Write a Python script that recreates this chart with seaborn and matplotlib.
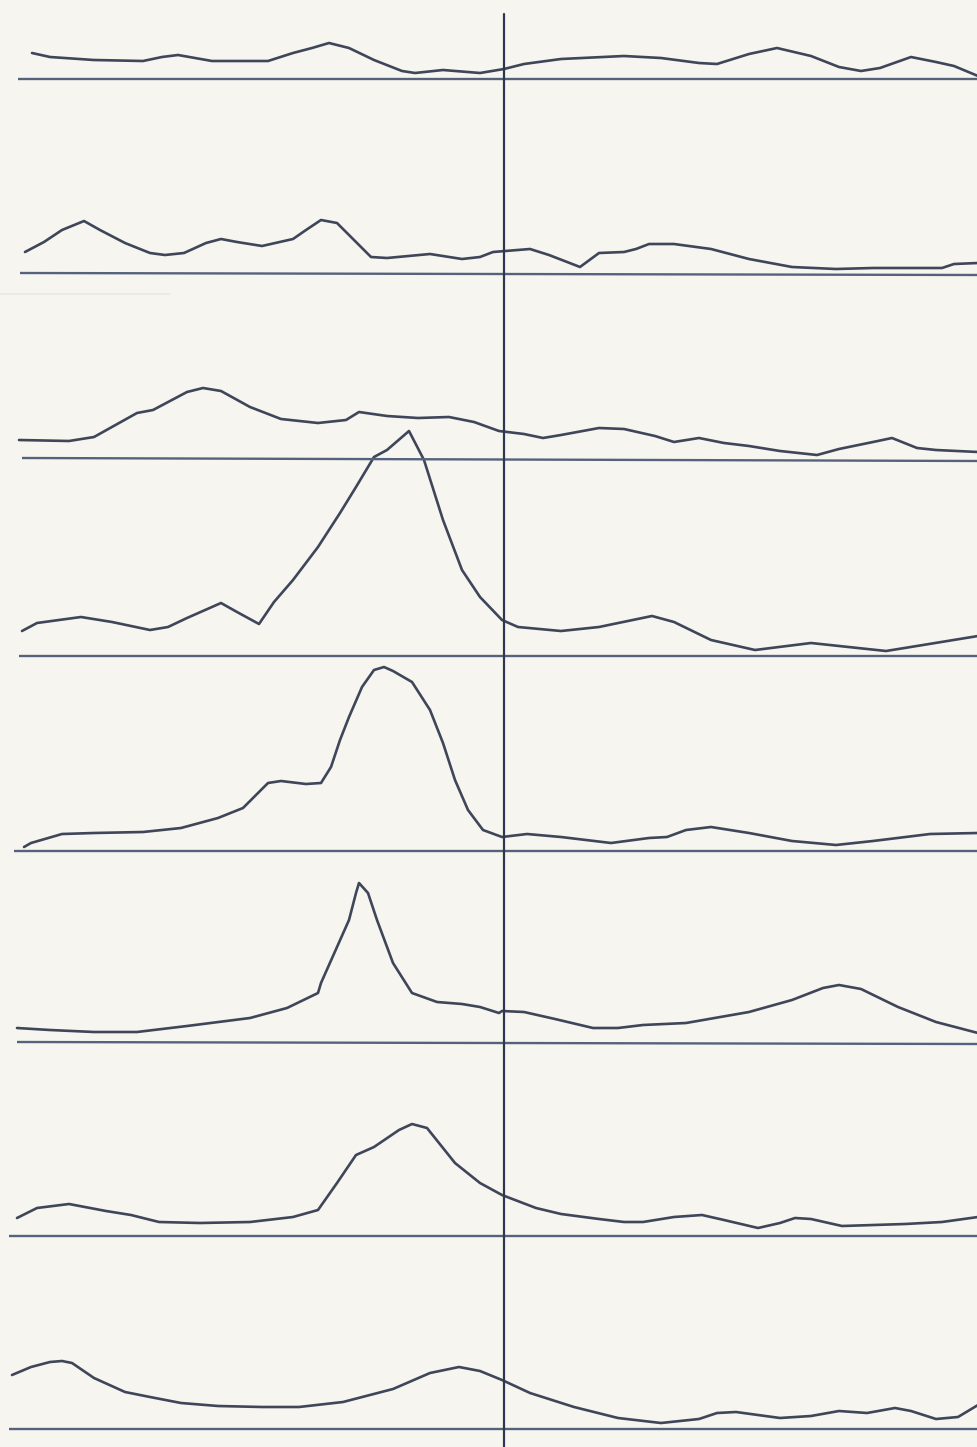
import matplotlib
matplotlib.use("Agg")
import matplotlib.pyplot as plt
import numpy as np
import pandas as pd
import seaborn as sns

# trace points (pixel coords, y grows downward)
trace1_x = [32, 50, 94, 143, 162, 178, 212, 268, 293, 312, 329, 349, 374, 402, 415, 443, 480, 504,
            524, 561, 624, 661, 699, 717, 749, 777, 811, 839, 861, 880, 911, 936, 954, 978]
trace1_y = [53, 57, 60, 61, 57, 55, 61, 61, 53, 48, 43, 48, 60, 71, 73, 70, 73, 69,
            64, 59, 56, 58, 63, 64, 54, 48, 56, 67, 71, 68, 57, 62, 66, 76]

trace2_x = [25, 44, 62, 84, 100, 125, 150, 165, 184, 206, 221, 237, 262, 293, 306, 321, 337, 352, 371,
            387, 430, 462, 480, 493, 530, 549, 580, 599, 624, 636, 649, 674, 711, 749, 792, 836, 873,
            942, 954, 978]
trace2_y = [252, 242, 230, 221, 230, 243, 253, 255, 253, 243, 239, 242, 246, 239, 230, 220, 223, 238, 257,
            258, 254, 259, 257, 252, 249, 255, 267, 253, 252, 249, 244, 244, 249, 259, 267, 269, 268,
            268, 264, 263]

trace3_x = [19, 69, 94, 137, 153, 187, 203, 221, 250, 281, 318, 346, 359, 387, 418, 449, 474, 499, 524,
            543, 561, 599, 624, 655, 674, 699, 724, 749, 780, 817, 839, 873, 892, 917, 936, 978]
trace3_y = [440, 441, 437, 413, 410, 392, 388, 391, 407, 419, 423, 420, 412, 416, 418, 417, 422, 431, 434,
            438, 435, 428, 429, 436, 442, 438, 443, 446, 451, 455, 449, 442, 438, 448, 450, 452]

trace4_x = [22, 37, 81, 112, 150, 168, 187, 221, 237, 259, 274, 293, 318, 340, 356, 374, 387, 409, 424,
            443, 462, 480, 502, 518, 561, 599, 652, 674, 711, 755, 811, 886, 923, 978]
trace4_y = [631, 623, 617, 622, 630, 627, 618, 603, 612, 624, 602, 580, 547, 513, 487, 457, 450, 431, 460,
            520, 570, 597, 620, 627, 631, 627, 616, 622, 640, 650, 643, 651, 645, 636]

trace5_x = [24, 31, 62, 94, 143, 181, 218, 243, 268, 281, 306, 321, 331, 340, 349, 362, 374, 384, 393,
            412, 430, 443, 455, 468, 483, 502, 527, 561, 611, 649, 667, 686, 711, 749, 792, 836, 873,
            930, 978]
trace5_y = [847, 843, 834, 833, 832, 828, 818, 808, 783, 781, 784, 783, 767, 740, 717, 687, 670, 667, 671,
            682, 710, 743, 780, 810, 830, 837, 834, 837, 843, 838, 837, 830, 827, 833, 841, 845, 841,
            834, 833]

trace6_x = [17, 50, 94, 137, 187, 250, 287, 318, 321, 337, 349, 356, 359, 368, 377, 393, 412, 437, 462,
            480, 499, 502, 524, 555, 593, 618, 643, 686, 749, 792, 823, 839, 861, 898, 936, 978]
trace6_y = [1028, 1030, 1032, 1032, 1026, 1018, 1008, 993, 983, 947, 920, 893, 883, 893, 920, 963, 993,
            1002, 1004, 1007, 1013, 1011, 1012, 1019, 1028, 1028, 1025, 1023, 1012, 1000, 988, 985, 989,
            1007, 1022, 1033]

trace7_x = [17, 37, 69, 106, 131, 159, 200, 250, 293, 318, 337, 356, 374, 399, 412, 427, 455, 480, 502,
            536, 561, 599, 624, 643, 674, 702, 724, 758, 780, 795, 811, 842, 905, 942, 978]
trace7_y = [1218, 1208, 1204, 1211, 1215, 1222, 1223, 1222, 1217, 1210, 1183, 1155, 1147, 1130, 1124,
            1128, 1163, 1183, 1195, 1208, 1214, 1219, 1222, 1222, 1217, 1215, 1220, 1228, 1223, 1218,
            1219, 1226, 1224, 1222, 1217]

trace8_x = [12, 31, 50, 62, 72, 94, 125, 150, 181, 218, 262, 299, 343, 393, 430, 459, 480, 502, 530,
            574, 618, 661, 699, 717, 736, 780, 811, 839, 867, 895, 911, 936, 958, 978]
trace8_y = [1375, 1367, 1362, 1361, 1363, 1378, 1392, 1397, 1403, 1406, 1407, 1407, 1402, 1389, 1373,
            1367, 1371, 1380, 1393, 1407, 1418, 1423, 1419, 1413, 1412, 1418, 1416, 1411, 1413, 1408,
            1411, 1419, 1417, 1405]

# baseline under each trace: start x, y at left edge, y at right edge
base_x0 = [18, 20, 22, 19, 14, 17, 9, 9]
base_y_left = [79, 273, 458, 656, 851, 1042, 1236, 1429]
base_y_right = [79, 275, 461, 656, 851, 1044, 1236, 1429]

# vertical marker line
marker_x = 504
marker_top = 14

W, H = 978, 1447
paper = "#f6f5ef"
ink = "#3f4659"

traces = [
    (trace1_x, trace1_y), (trace2_x, trace2_y), (trace3_x, trace3_y), (trace4_x, trace4_y),
    (trace5_x, trace5_y), (trace6_x, trace6_y), (trace7_x, trace7_y), (trace8_x, trace8_y),
]
df = pd.concat(
    [pd.DataFrame({"trace": i, "x": xs, "y": ys}) for i, (xs, ys) in enumerate(traces)],
    ignore_index=True,
)

sns.set_theme(style="white", rc={"axes.facecolor": paper, "figure.facecolor": paper})

fig = plt.figure(figsize=(W / 100, H / 100), dpi=100)
ax = fig.add_axes([0, 0, 1, 1])

sns.lineplot(data=df, x="x", y="y", units="trace", estimator=None, sort=False,
             color=ink, linewidth=1.9, ax=ax, legend=False,
             solid_joinstyle="round", solid_capstyle="round")

for x0, yl, yr in zip(base_x0, base_y_left, base_y_right):
    ax.plot([x0, W], [yl, yr], color="#56627c", linewidth=1.7, solid_capstyle="butt")

ax.plot([marker_x, marker_x], [marker_top, H], color="#2e3650", linewidth=1.6)

# faint ghost mark bleeding through the paper
ax.plot([0, 170], [294, 294], color="#e9e8e1", linewidth=1.2)

ax.set_xlim(0, W)
ax.set_ylim(H, 0)
ax.axis("off")

fig.savefig("out.png", dpi=100, facecolor=paper)
